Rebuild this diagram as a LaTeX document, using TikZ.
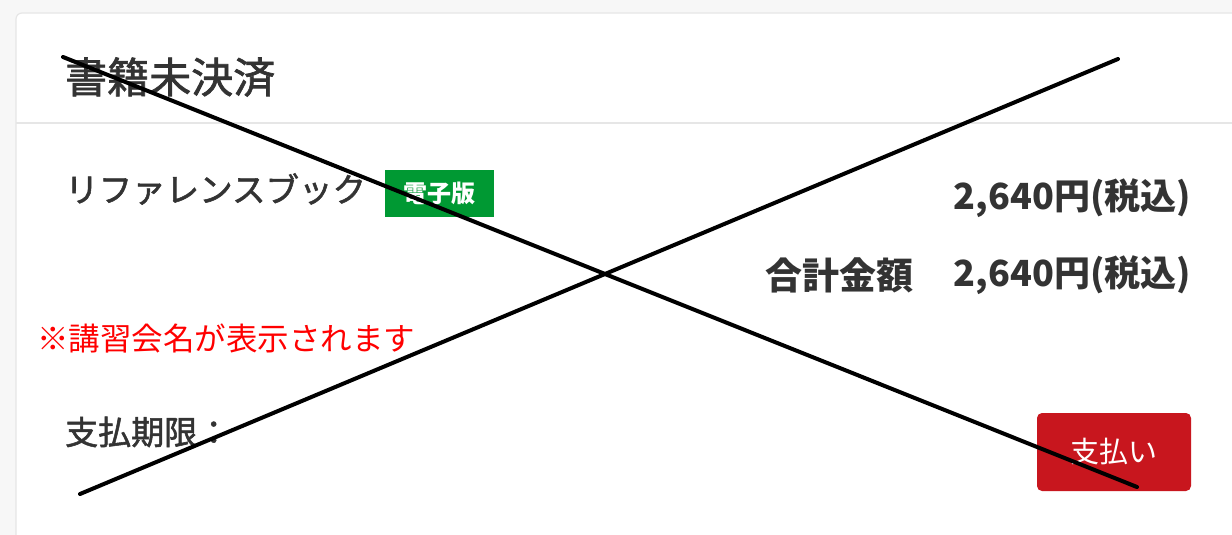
\documentclass[tikz,border=0pt]{standalone}
\usepackage{fontspec}
\setmainfont{Noto Sans CJK JP}
\newfontfamily\jpmed[BoldFont=Noto Sans CJK JP,BoldFeatures={FakeBold=1.6}]{Noto Sans CJK JP}
\usetikzlibrary{positioning}
\definecolor{pagegray}{HTML}{F7F7F7}
\definecolor{rulegray}{HTML}{E6E6E6}
\definecolor{txtgray}{HTML}{333333}
\definecolor{badgegreen}{HTML}{009933}
\definecolor{payred}{HTML}{C8161E}
\newcommand{\fs}[1]{\fontsize{#1}{#1}\selectfont}

\begin{document}
\begin{tikzpicture}[x=1pt,y=-1pt,node distance=20pt,
  lbl/.style={text=txtgray,inner sep=0pt},
  cross/.style={line width=4pt,line cap=round}]
\useasboundingbox (0,0) rectangle (1232,535);
\fill[pagegray] (0,0) rectangle (1232,535);
\filldraw[fill=white,draw=rulegray,line width=1.2pt,rounded corners=6pt] (16,13) rectangle (1260,560);
\draw[rulegray,line width=1.5pt] (16,123) -- (1232,123);

\node[lbl,anchor=west,font=\jpmed\bfseries\fs{42}] (title) at (65,77) {書籍未決済};
\node[lbl,anchor=west,font=\jpmed\bfseries\fs{33.5}] (book) at (65,189) {リファレンスブック};
\node[fill=badgegreen,text=white,font=\fs{24}\bfseries,minimum width=109pt,minimum height=47pt,inner sep=0pt] (ebook) at (439.5,193.5) {電子版};
\node[lbl,anchor=east,font=\fs{36}\bfseries] (price) at (1191,198) {2,640円(税込)};
\node[lbl,anchor=east,font=\fs{36}\bfseries] (total) at (1191,275) {2,640円(税込)};
\node[lbl,anchor=east,font=\fs{37}\bfseries,left=40pt of total] (totallbl) {合計金額};
\node[inner sep=0pt,anchor=west,text=red,font=\fs{31.5}] (note) at (37,338) {※講習会名が表示されます};
\node[lbl,anchor=west,font=\jpmed\bfseries\fs{33}] (limit) at (65,432) {支払期限：};
\node[fill=payred,text=white,font=\fs{29},rounded corners=5pt,minimum width=154pt,minimum height=78pt,inner sep=0pt] (pay) at (1114,452) {支払い};

\coordinate (c_0) at (63,57);
\coordinate (c_1) at (1137,487);
\coordinate (c_2) at (80,494);
\coordinate (c_3) at (1118,59);
\draw[cross] (c_0) -- (c_1);
\draw[cross] (c_2) -- (c_3);
\end{tikzpicture}
\end{document}
